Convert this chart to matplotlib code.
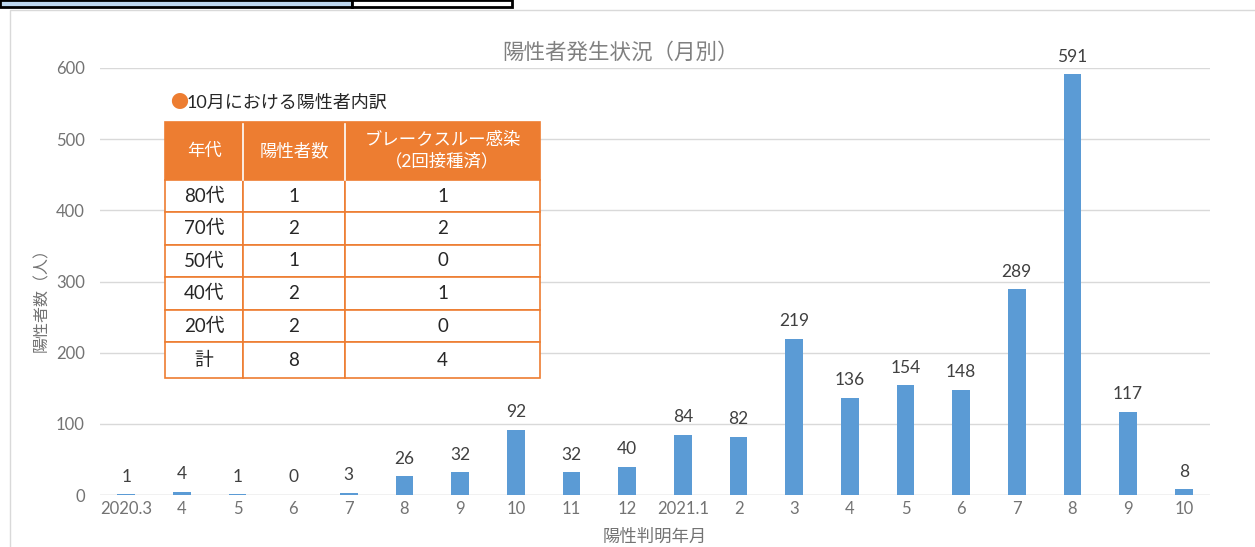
import matplotlib
matplotlib.use("Agg")
import matplotlib.pyplot as plt
from matplotlib.patches import Rectangle

plt.rcParams['font.family'] = ['Lato', 'Noto Sans CJK JP', 'DejaVu Sans']

months = ["2020.3", "4", "5", "6", "7", "8", "9", "10", "11", "12",
          "2021.1", "2", "3", "4", "5", "6", "7", "8", "9", "10"]
cases = [1, 4, 1, 0, 3, 26, 32, 92, 32, 40, 84, 82, 219, 136, 154, 148, 289, 591, 117, 8]

table_header = ["年代", "陽性者数", "ブレークスルー感染\n（2回接種済）"]
age_groups = ["80代", "70代", "50代", "40代", "20代", "計"]
positives = [1, 2, 1, 2, 2, 8]
breakthrough = [1, 2, 0, 1, 0, 4]

W, H = 1255, 547
fig = plt.figure(figsize=(W / 100, H / 100), dpi=100)

def fx(x):
    return x / W

def fy(y):
    return 1 - y / H

# top strip boxes
fig.patches.append(Rectangle((fx(0), fy(7)), fx(352), 7 / H, transform=fig.transFigure,
                             facecolor="#BDD7EE", edgecolor="black", lw=2))
fig.patches.append(Rectangle((fx(352), fy(7)), fx(160), 7 / H, transform=fig.transFigure,
                             facecolor="white", edgecolor="black", lw=2))
# chart area border
fig.patches.append(Rectangle((fx(10), fy(560)), fx(1260), 550 / H, transform=fig.transFigure,
                             facecolor="none", edgecolor="#D9D9D9", lw=1))

n = len(months)
left_px, right_px, top_px, bot_px = 100, 1210, 68, 495
ax = fig.add_axes([fx(left_px), fy(bot_px), fx(right_px - left_px), (bot_px - top_px) / H])
x = list(range(n))
ax.bar(x, cases, width=0.32, color="#5B9BD5", zorder=3)
ax.set_xlim(-0.47, n - 1 + 0.47)
ax.set_ylim(0, 600)
ax.set_yticks(range(0, 601, 100))
ax.set_xticks(x)
ax.set_xticklabels(months)
ax.tick_params(axis='both', length=0, colors="#737373", labelsize=12)
ax.tick_params(axis='x', pad=4)
ax.tick_params(axis='y', pad=11)
ax.grid(axis='y', color="#D9D9D9", lw=1, zorder=0)
for s in ax.spines.values():
    s.set_visible(False)
ax.axhline(0, color="#D9D9D9", lw=1, zorder=1)
for xi, v in zip(x, cases):
    ax.annotate(str(v), (xi, v), xytext=(0, 7), textcoords="offset points",
                ha="center", va="bottom", fontsize=12.5, color="#404040", clip_on=False)

fig.text(fx(621), fy(52), "陽性者発生状況（月別）", ha="center", va="center",
         fontsize=15.5, color="#808080")
fig.text(fx(42), fy(296), "陽性者数（人）", ha="center", va="center", rotation=90,
         fontsize=11.5, color="#737373")
fig.text(fx(655), fy(537), "陽性判明年月", ha="center", va="center",
         fontsize=12.5, color="#737373")

# inset table
orange = "#ED7D31"
fig.text(fx(170), fy(103), "●", ha="left", va="center", fontsize=13, color=orange,
         family=['Noto Sans CJK JP'])
fig.text(fx(187), fy(103), "10月における陽性者内訳", ha="left", va="center",
         fontsize=13, color="#262626")

col_x = [165, 243, 345, 540]
row_y = [122, 180, 212, 245, 277, 310, 342, 378]
# header
fig.patches.append(Rectangle((fx(col_x[0]), fy(row_y[1])), fx(col_x[-1] - col_x[0]),
                             (row_y[1] - row_y[0]) / H, transform=fig.transFigure,
                             facecolor=orange, edgecolor=orange, lw=1.2))
for c, txt in enumerate(table_header):
    cx = (col_x[c] + col_x[c + 1]) / 2
    cy = (row_y[0] + row_y[1]) / 2
    fig.text(fx(cx), fy(cy), txt, ha="center", va="center", fontsize=12.5,
             color="white", linespacing=1.35)
# header separators (white)
for c in (1, 2):
    fig.add_artist(plt.Line2D([fx(col_x[c])] * 2, [fy(row_y[0] + 2), fy(row_y[1])],
                              transform=fig.transFigure, color="white", lw=1.2))
# body
rows = list(zip(age_groups, positives, breakthrough))
for r, (a, p, b) in enumerate(rows):
    y0, y1 = row_y[r + 1], row_y[r + 2]
    for c, val in enumerate((a, p, b)):
        fig.patches.append(Rectangle((fx(col_x[c]), fy(y1)), fx(col_x[c + 1] - col_x[c]),
                                     (y1 - y0) / H, transform=fig.transFigure,
                                     facecolor="white", edgecolor=orange, lw=1.2))
        fig.text(fx((col_x[c] + col_x[c + 1]) / 2), fy((y0 + y1) / 2), str(val),
                 ha="center", va="center", fontsize=13.5, color="#262626")

fig.savefig("out.png", dpi=100)
